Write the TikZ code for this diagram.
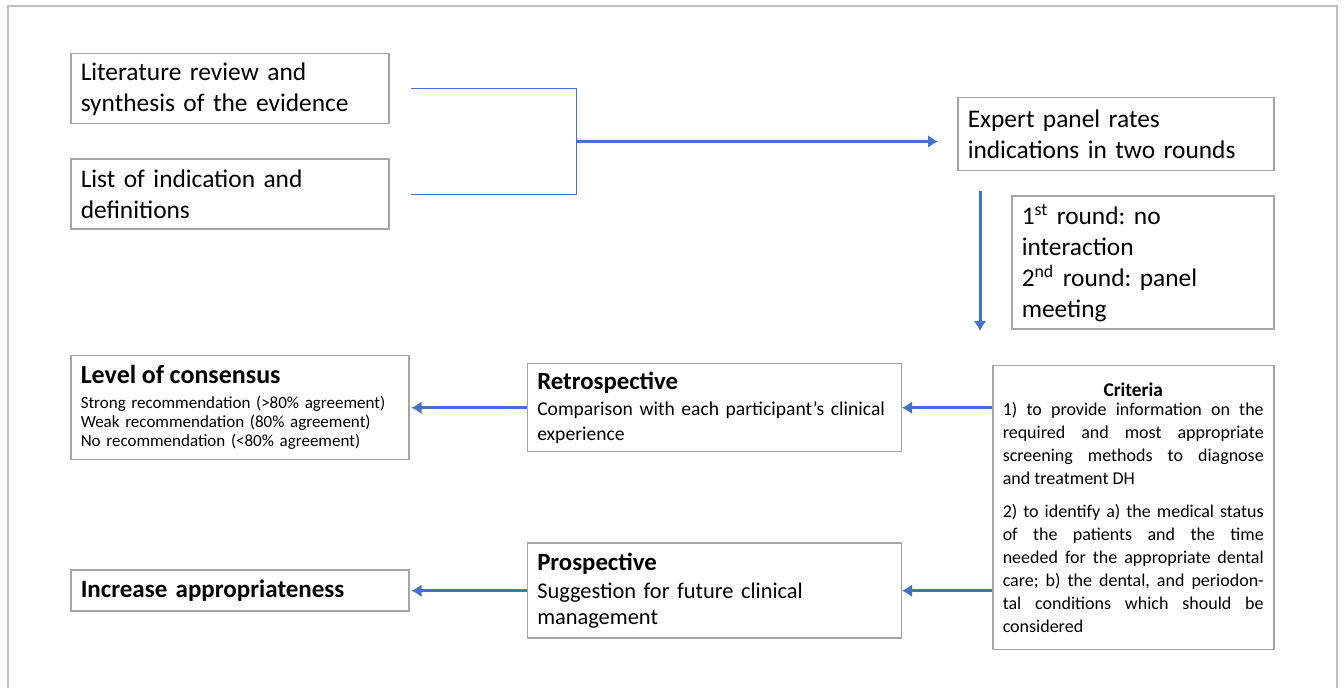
\documentclass[tikz,border=0pt]{standalone}
\usepackage{fontspec}
\setmainfont{Carlito}
\frenchspacing
\usetikzlibrary{arrows.meta,positioning,calc}
\definecolor{flowblue}{RGB}{68,114,196}
\definecolor{boxframe}{RGB}{165,165,165}
\definecolor{pageframe}{RGB}{190,190,190}

\begin{document}
\begin{tikzpicture}[
  x=0.5pt,y=-0.5pt,
  box/.style={draw=boxframe,line width=0.75pt,fill=white,anchor=north west,
    align=left,inner xsep=5pt,inner ysep=0pt,font=\fontsize{12.7}{15.5}\selectfont},
  head/.style={font=\fontsize{12.5}{14}\selectfont\bfseries},
  arr/.style={-{Latex[length=5pt,width=6.5pt]},line width=1.5pt,flowblue},
  bracket/.style={line width=0.7pt,flowblue},
]
  \useasboundingbox (0,0) rectangle (1344,688);
  \draw[pageframe,line width=1pt] (8,688) |- (1337,6) -- (1337,688);

  \node[box,text width=149pt,minimum height=35pt] (lit) at (70,53)
    {Literature review and\\synthesis of the evidence};
  \node[box,below=17pt of lit,text width=149pt,minimum height=35pt] (list)
    {List of indication and\\definitions};
  \node[box,text width=148pt,minimum height=36.5pt] (expert) at (957,97)
    {Expert panel rates\\indications in two rounds};
  \node[box,below=12pt of expert.south east,anchor=north east,
    text width=121pt,minimum height=66.5pt] (rounds)
    {1\textsuperscript{st} round: no\\interaction\\2\textsuperscript{nd} round: panel\\meeting};

  \node[box,below=62.5pt of list.south west,anchor=north west,text width=159pt,
    minimum height=52pt,font=\fontsize{8.5}{9.5}\selectfont] (level)
    {{\fontsize{13}{15}\selectfont\bfseries Level of consensus}\\[3pt]
     Strong recommendation (>80\% agreement)\\
     Weak recommendation (80\% agreement)\\
     No recommendation (<80\% agreement)};
  \node[box,right=58.5pt of level,text width=177pt,minimum height=44pt,
    font=\fontsize{9.8}{12.5}\selectfont] (retro)
    {{\fontsize{12.4}{14}\selectfont\bfseries Retrospective}\\[0.5pt]
     Comparison with each participant’s clinical\\experience};
  \node[box,below=45pt of retro,text width=177pt,minimum height=47.5pt,
    font=\fontsize{11.2}{13.3}\selectfont] (prosp)
    {{\fontsize{12.4}{14}\selectfont\bfseries Prospective}\\[0.5pt]
     Suggestion for future clinical\\management};
  \node[box,left=58.5pt of prosp,text width=159pt,minimum height=20.5pt,head] (incr)
    {Increase appropriateness};

  \node[box,below=17.5pt of rounds.south east,anchor=north east,text width=130.5pt,
    minimum height=142pt,align=justify,font=\fontsize{9}{11.5}\selectfont] (crit)
    {{\centering\fontsize{9.7}{10.8}\selectfont\bfseries Criteria\par}
     \vspace{-2pt}
     1) to provide information on the\linebreak
     required and most appropriate\linebreak screening methods to diagnose\linebreak
     and treatment DH\par
     \vspace{5pt}
     2) to identify a) the medical status\linebreak
     of the patients and the time\linebreak needed for the appropriate dental\linebreak
     care; b) the dental, and periodon-\linebreak tal conditions which should be\linebreak
     considered\par};

  \coordinate (join) at ($(lit.east)!0.5!(list.east)+(93.5pt,0)$);
  \draw[bracket] ([xshift=10.5pt]lit.east) -| (join) |- ([xshift=10.5pt]list.east);
  \draw[arr,shorten >=9.5pt] (join) -- (join -| expert.west);
  \draw[arr] ([xshift=11.5pt,yshift=-10pt]expert.south west)
    -- ([xshift=-6pt,yshift=17pt]crit.north west);
  \draw[arr] (crit.west |- retro.east) -- (retro.east);
  \draw[arr] (crit.west |- prosp.east) -- (prosp.east);
  \draw[arr,shorten >=1pt] (retro.west) -- (level.east);
  \draw[arr,shorten >=1pt] (prosp.west) -- (incr.east);
\end{tikzpicture}
\end{document}
